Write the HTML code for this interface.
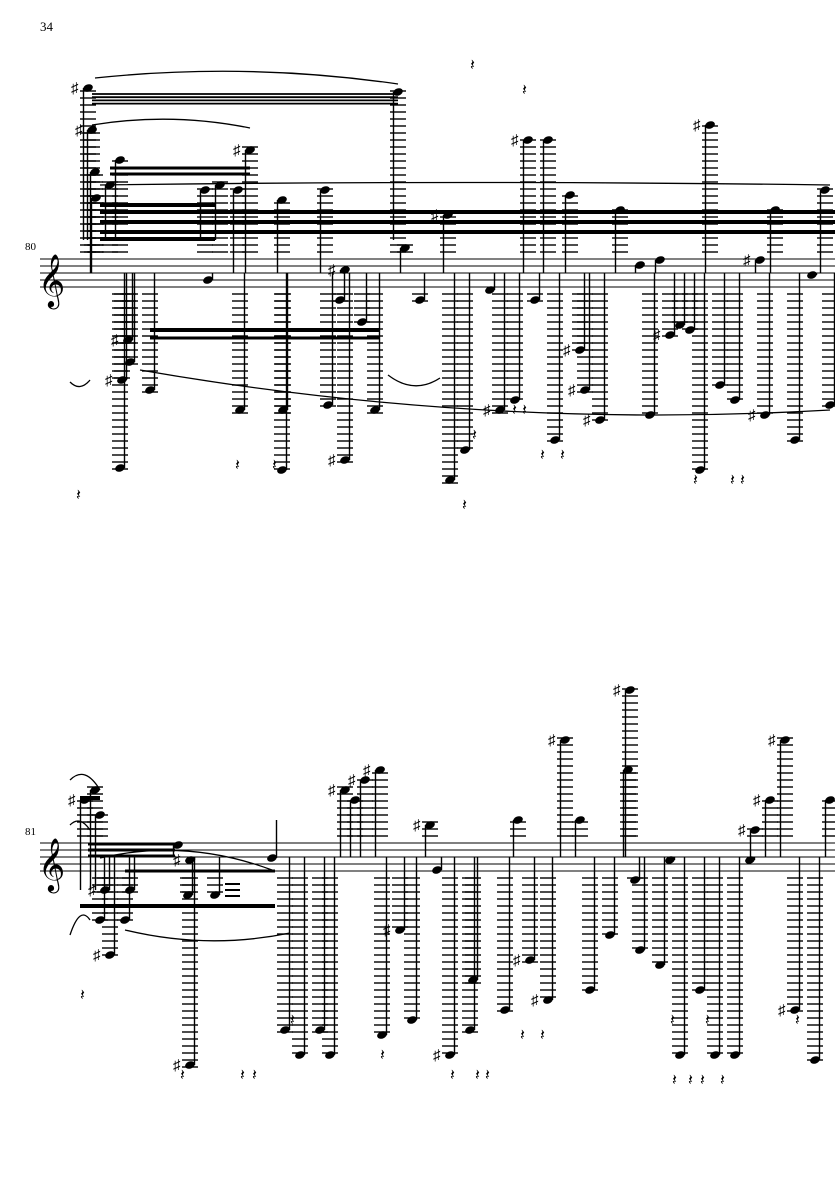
<!DOCTYPE html>
<html><head><meta charset="utf-8"><style>
html,body{margin:0;padding:0;background:#fff;width:835px;height:1181px;overflow:hidden}
svg{display:block}
text{font-family:"Liberation Serif","DejaVu Serif",serif}
</style></head><body>
<svg id="s" width="835" height="1181" xmlns="http://www.w3.org/2000/svg">
<text x="40" y="31" font-size="13">34</text>
<text x="25" y="250" font-size="11">80</text>
<text x="25" y="835" font-size="11">81</text>
<text x="38" y="296" font-size="46">𝄞</text>
<text x="38" y="880" font-size="46">𝄞</text>
<g id="g" stroke="#000" fill="#000"></g>
<g id="t" font-family="DejaVu Sans, sans-serif" font-size="15"></g>
</svg>
<script>
var g=document.getElementById('g'),h='',tx='';
function L(x1,y1,x2,y2,w){h+='<line x1="'+x1+'" y1="'+y1+'" x2="'+x2+'" y2="'+y2+'" stroke-width="'+(w||1)+'"/>';}
function staff(t){for(var i=0;i<5;i++)L(40,t+i*7,835,t+i*7,1);}
function note(t,x,y,stemTo){
  var b=t+28;
  if(y<t-3){for(var yy=t-7;yy>=y-3;yy-=7)L(x-8,yy,x+8,yy,1.4);}
  if(y>b+3){for(var yy=b+7;yy<=y+3;yy+=7)L(x-8,yy,x+8,yy,1.4);}
  h+='<ellipse cx="'+x+'" cy="'+y+'" rx="5" ry="3.6" transform="rotate(-20 '+x+' '+y+')" stroke="none"/>';
  var sx=y<t+14?x-4.5:x+4.5;
  L(sx,y,sx,stemTo!==undefined?stemTo:t+14,1.4);
}
function sharp(x,y){tx+='<text x="'+(x-17)+'" y="'+(y+5)+'">♯</text>';}
function rest(x,y){tx+='<text x="'+x+'" y="'+y+'" font-size="16">𝄽</text>';}
function beam(x1,y1,x2,y2,w){h+='<line x1="'+x1+'" y1="'+y1+'" x2="'+x2+'" y2="'+y2+'" stroke-width="'+w+'"/>';}
function slur(x1,y1,x2,y2,c){h+='<path d="M'+x1+' '+y1+' Q'+((x1+x2)/2)+' '+c+' '+x2+' '+y2+'" fill="none" stroke-width="1.3"/>';}
var t1=259;staff(t1);
var n1=[[88,88,240],[92,130,240],[95,172],[96,198],[110,185,240],[120,160,240],[128,340],[130,362],[122,380],[120,468],[150,390],[205,190,240],[208,280],[220,185,240],[238,190],[240,410],[250,150],[282,200],[283,410],[282,470],[325,190],[328,405],[345,460],[345,270],[340,300],[362,322],[375,410],[398,92,240],[405,248],[420,300],[448,215],[450,480],[465,450],[490,290],[500,410],[515,400],[528,140],[535,300],[548,140],[555,440],[570,195],[580,350],[585,390],[600,420],[620,210],[640,265],[650,415],[660,260],[670,335],[680,325],[690,330],[700,470],[710,125],[720,385],[735,400],[760,260],[765,415],[775,210],[795,440],[812,275],[825,190],[830,405]];
n1.forEach(function(n){note(t1,n[0],n[1],n[2]);});
[[88,88],[92,130],[128,340],[122,380],[250,150],[345,270],[345,460],[448,215],[500,410],[528,140],[580,350],[585,390],[600,420],[670,335],[710,125],[760,260],[765,415]].forEach(function(s){sharp(s[0],s[1]);});
[[76,500],[235,470],[272,470],[470,70],[522,95],[472,440],[512,415],[522,415],[540,460],[560,460],[693,485],[730,485],[740,485],[462,510]].forEach(function(r){rest(r[0],r[1]);});
[[100,205,215,205],[100,212,835,212],[100,222,835,222],[100,232,835,232],[100,239,215,239]].forEach(function(b){beam(b[0],b[1],b[2],b[3],4);});
for(var i=0;i<4;i++)beam(92,94+i*3.2,398,94+i*3.2,1.8);
beam(110,168,250,168,3);beam(110,174,250,174,3);
beam(150,330,380,330,4);beam(150,338,380,338,3);
slur(95,78,398,84,62);slur(92,125,250,128,112);slur(100,185,830,185,180);slur(140,370,830,410,430);slur(388,375,440,378,395);slur(70,382,90,380,392);
var t2=843;staff(t2);
var n2=[[85,800,890],[95,790,890],[100,815,890],[105,890],[100,920],[110,955],[130,890],[125,920],[190,1065],[178,845],[188,895],[190,860],[215,895],[272,858,820],[285,1030],[300,1055],[320,1030],[330,1055],[345,790],[355,800],[365,780],[380,770],[382,1035],[400,930],[412,1020],[430,825],[437,870],[450,1055],[470,1030],[473,980],[505,1010],[518,820],[530,960],[548,1000],[565,740],[580,820],[590,990],[610,935],[628,770],[630,690],[635,880],[640,950],[660,965],[670,860],[680,1055],[700,990],[715,1055],[735,1055],[750,860],[755,830],[770,800],[785,740],[795,1010],[815,1060],[830,800]];
n2.forEach(function(n){note(t2,n[0],n[1],n[2]);});
[[85,800],[105,890],[110,955],[190,1065],[190,860],[345,790],[365,780],[380,770],[400,930],[430,825],[450,1055],[530,960],[548,1000],[565,740],[630,690],[755,830],[770,800],[785,740],[795,1010]].forEach(function(s){sharp(s[0],s[1]);});
[[80,1000],[180,1080],[240,1080],[252,1080],[290,1025],[380,1060],[450,1080],[475,1080],[485,1080],[520,1040],[540,1040],[670,1025],[705,1025],[795,1025],[672,1085],[688,1085],[700,1085],[720,1085]].forEach(function(r){rest(r[0],r[1]);});
[[88,844,175,844,3],[88,850,175,850,3],[88,856,175,856,3],[80,906,275,906,4],[125,871,275,871,3],[225,884,240,884,2],[225,890,240,890,2],[225,896,240,896,2],[80,798,100,798,4]].forEach(function(b){beam(b[0],b[1],b[2],b[3],b[4]);});
slur(100,858,272,870,838);slur(125,930,290,933,950);slur(70,780,100,790,765);slur(70,825,90,830,815);slur(70,935,90,920,905);
g.innerHTML=h;document.getElementById('t').innerHTML=tx;
</script>
</body></html>
